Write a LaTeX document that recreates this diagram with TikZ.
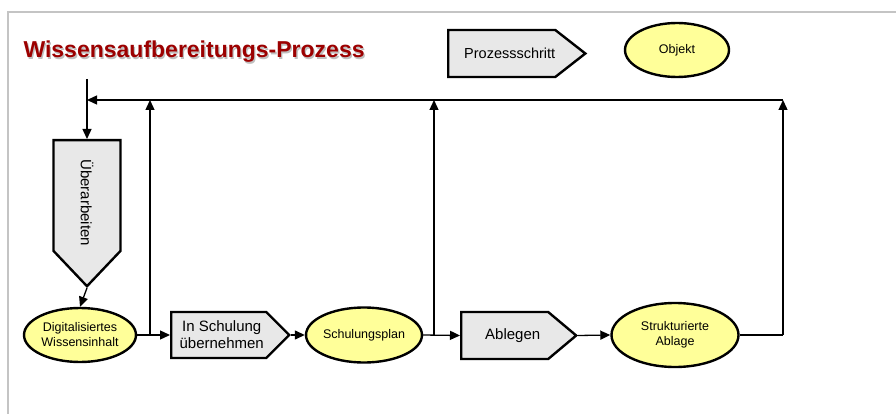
\documentclass[tikz,border=0pt]{standalone}
\usepackage{fontspec}
\setmainfont{Liberation Sans}
\usetikzlibrary{shapes.geometric,shapes.symbols,arrows.meta}
\definecolor{objfill}{HTML}{FFFF99}
\definecolor{stepfill}{HTML}{E8E8E8}
\definecolor{titlered}{HTML}{9C0000}
\definecolor{framegray}{HTML}{C4C4C4}
% pushes a label towards the pointer of a step shape
\newcommand{\nudge}[1]{\hspace*{#1}}
\begin{document}
\begin{tikzpicture}[x=1pt,y=-1pt,
  conn/.style={line width=1.3pt,-{Triangle[length=10pt,width=9pt]}},
  plainline/.style={line width=1.3pt},
  objnode/.style={ellipse,draw,line width=2.4pt,fill=objfill,inner sep=0pt,
    align=center,font=\fontsize{12.5}{15}\selectfont},
  stepbox/.style={signal,signal to=east,draw,line width=2.4pt,fill=stepfill,
    inner sep=0pt,align=center,font=\fontsize{15}{17}\selectfont}]
\useasboundingbox (0,0) rectangle (896,414);
% frame
\draw[framegray,line width=2.5pt] (8,414) -- (8,12) -- (896,12);
% title with shadow
\node[anchor=west,text=black!25,font=\fontsize{23}{27}\selectfont\bfseries] (titleshadow) at (21.3,53.3) {Wissensaufbereitungs-Prozess};
\node[anchor=west,text=titlered,font=\fontsize{23}{27}\selectfont\bfseries] (title) at (20,52) {Wissensaufbereitungs-Prozess};
% legend
\node[stepbox,anchor=west,minimum width=123pt,minimum height=47pt,signal pointer angle=76,
  font=\fontsize{14.5}{17}\selectfont] (legstep) at (447,53.5) {\nudge{16pt}Prozessschritt};
\node[objnode,minimum width=104pt,minimum height=54pt] (legobj) at (677,50) {Objekt};
% process steps
\node[stepbox,rotate=-90,anchor=west,minimum width=146pt,minimum height=67pt,signal pointer angle=87] (ueb) at (87,139) {\nudge{14pt}Überarbeiten};
\node[stepbox,anchor=west,minimum width=118pt,minimum height=46pt,signal pointer angle=90] (schul) at (170,335) {\nudge{6pt}In Schulung\\\nudge{6pt}übernehmen};
\node[stepbox,anchor=west,minimum width=115pt,minimum height=47pt,signal pointer angle=80] (ableg) at (460,335.5) {\nudge{16pt}Ablegen};
% objects
\node[objnode,minimum width=112pt,minimum height=54pt] (dig) at (80,335) {Digitalisiertes\\Wissensinhalt};
\node[objnode,minimum width=104pt,minimum height=55pt] (plan) at (364,335) {Schulungsplan};
\node[objnode,minimum width=127pt,minimum height=64pt] (struk) at (675,335) {Strukturierte\\Ablage};
% junction points of the feedback loop
\coordinate (in0) at (87,79);
\coordinate (t0) at (87,100);
\coordinate (j1) at (150,335);
\coordinate (t1) at (150,100);
\coordinate (j2) at (434,335);
\coordinate (t2) at (434,100);
\coordinate (j3) at (783,335);
\coordinate (t3) at (783,100);
% main flow
\draw[conn] (in0) -- (ueb.west);
\draw[conn] (ueb.east) -- (dig.north);
\draw[conn] (dig.east) -- (schul.west);
\draw[conn] (schul.east) -- (plan.west);
\draw[conn] (plan.east) -- (ableg.west);
\draw[conn] (ableg.east) -- (struk.west);
\draw[plainline] (struk.east) -- (j3);
% feedback loop
\draw[conn] (j1) -- (t1);
\draw[conn] (j2) -- (t2);
\draw[conn] (j3) -- (t3);
\draw[conn] (t3) -- (t0);
\end{tikzpicture}
\end{document}
